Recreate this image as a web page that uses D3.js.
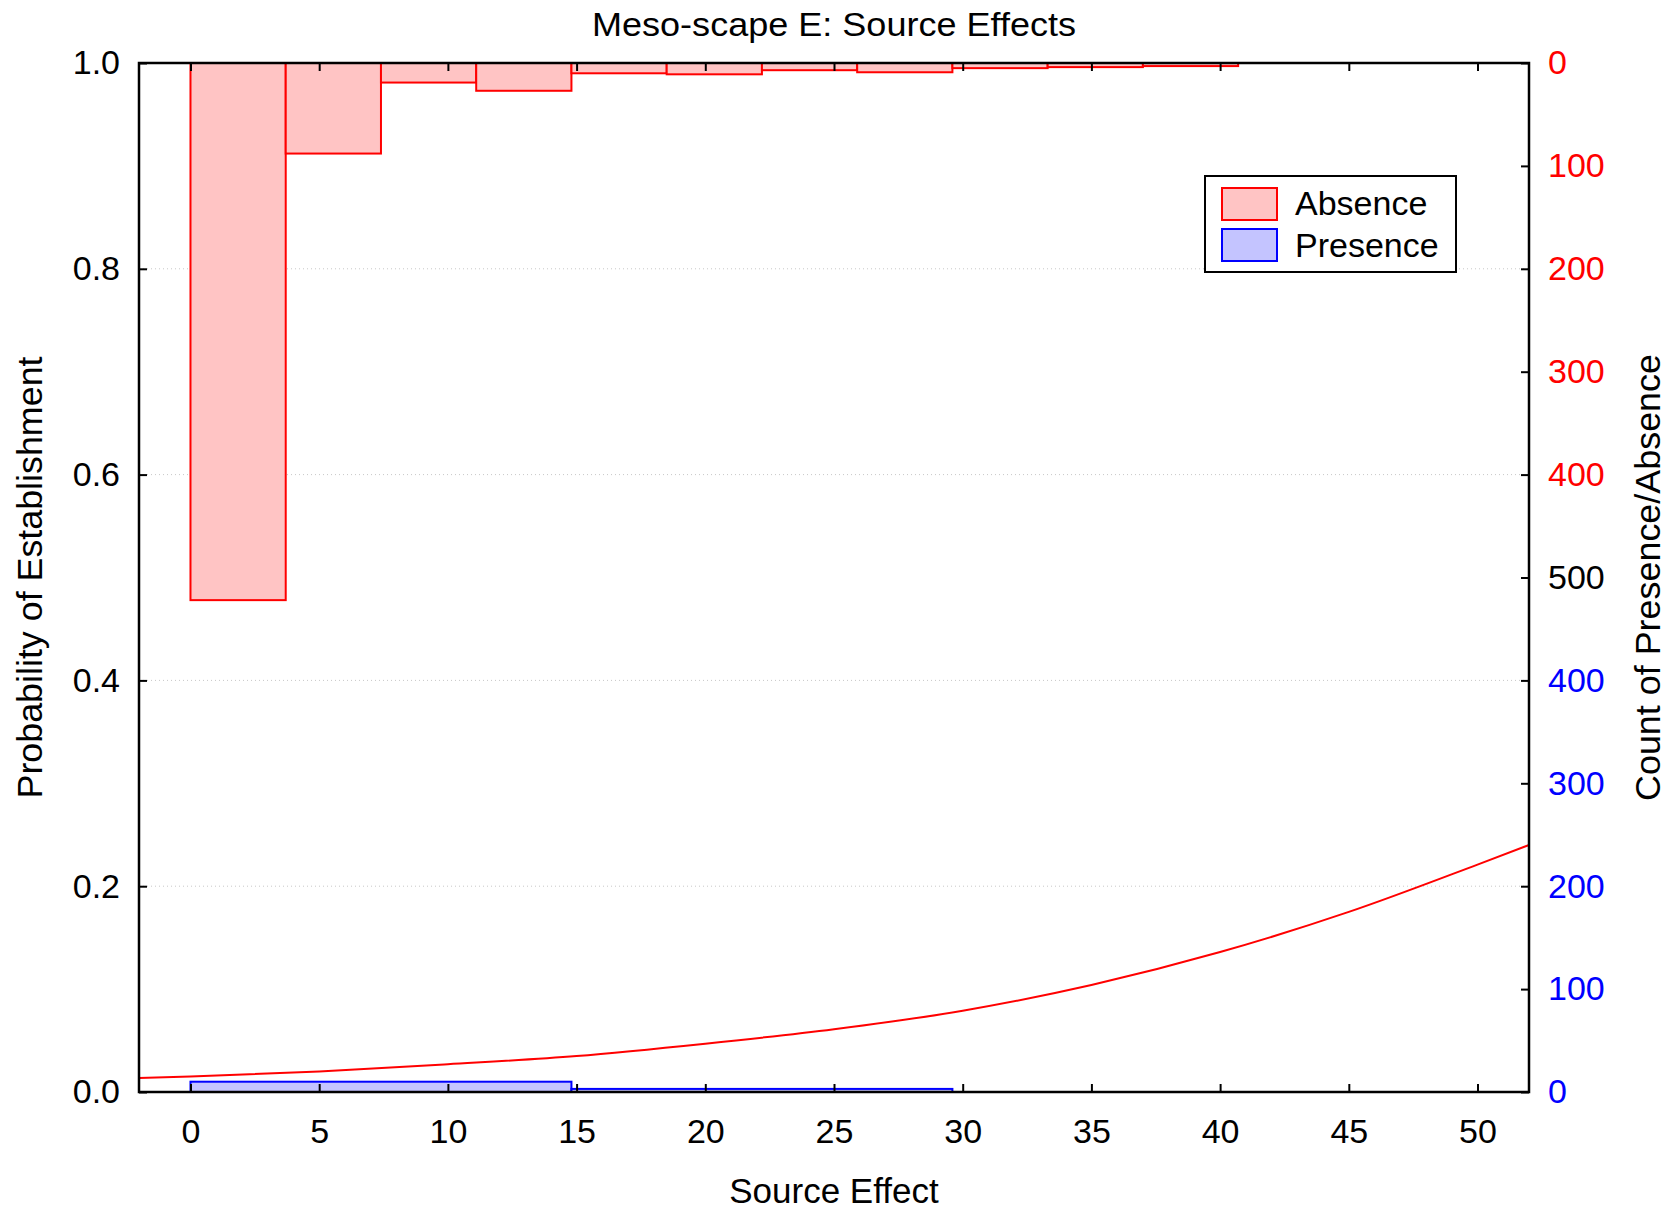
<!DOCTYPE html>
<html>
<head>
<meta charset="utf-8">
<script src="https://cdn.jsdelivr.net/npm/d3@7"></script>
<style>
  body { margin: 0; background: #fff; }
  text { font-family: Arial, "Liberation Sans", sans-serif; }
</style>
</head>
<body>
<div id="container"></div>
<script>
/* CONSTANTS AND GLOBALS */
const width = 1678,
  height = 1210,
  margin = {top: 63, left: 139, bottom: 118, right: 149};

/* DATA */
// histogram bins (source effect) and counts
const absenceEdges = [0, 3.7, 7.4, 11.1, 14.8, 18.5, 22.2, 25.9, 29.6, 33.3, 37.0, 40.7];
const absenceCounts = [522, 88, 19, 27, 10, 11, 7, 9, 5, 4, 3];
const presenceEdges = [0, 14.8, 29.6];
const presenceCounts = [10, 3];

// fitted probability curve
const curveX = [-2, 0, 5, 10, 15, 20, 25, 30, 35, 40, 45, 50, 52];
const curveP = [0.0135, 0.015, 0.020, 0.027, 0.035, 0.047, 0.061, 0.079, 0.104, 0.136, 0.175, 0.221, 0.240];

// tick labels
const xTicks = [0, 5, 10, 15, 20, 25, 30, 35, 40, 45, 50];
const yTicks = [0, 0.2, 0.4, 0.6, 0.8, 1.0];
const countTicks = [0, 100, 200, 300, 400, 500, 600, 700, 800, 900, 1000];
const countLabels = ["0", "100", "200", "300", "400", "500", "400", "300", "200", "100", "0"];
const countColors = ["red", "red", "red", "red", "red", "black", "blue", "blue", "blue", "blue", "blue"];

const legendItems = ["Absence", "Presence"];

/* SCALES */
const xScale = d3.scaleLinear()
  .domain([-2, 52])
  .range([margin.left, width - margin.right]);

const yScale = d3.scaleLinear()
  .domain([0, 1])
  .range([height - margin.bottom, margin.top]);

// right axis: absence counted down from the top, presence up from the bottom
const countScale = d3.scaleLinear()
  .domain([0, 1000])
  .range([margin.top, height - margin.bottom]);

const presenceScale = d3.scaleLinear()
  .domain([0, 1000])
  .range([height - margin.bottom, margin.top]);

/* SVG */
const svg = d3.select("#container")
  .append("svg")
  .attr("width", width)
  .attr("height", height);

const x0 = margin.left, x1 = width - margin.right;
const y0 = margin.top, y1 = height - margin.bottom;

svg.append("clipPath").attr("id", "plotclip")
  .append("rect")
  .attr("x", x0).attr("y", y0)
  .attr("width", x1 - x0).attr("height", y1 - y0);

// grid lines
svg.selectAll(".grid")
  .data([0.2, 0.4, 0.6, 0.8])
  .join("line")
  .attr("class", "grid")
  .attr("x1", x0).attr("x2", x1)
  .attr("y1", d => yScale(d)).attr("y2", d => yScale(d))
  .attr("stroke", "#c8c8c8")
  .attr("stroke-width", 1)
  .attr("stroke-dasharray", "1,3");

// absence bars
const absenceBins = absenceCounts.map((c, i) => ({x0: absenceEdges[i], x1: absenceEdges[i + 1], count: c}));
svg.selectAll(".absence")
  .data(absenceBins)
  .join("rect")
  .attr("class", "absence")
  .attr("x", d => xScale(d.x0))
  .attr("y", countScale(0))
  .attr("width", d => xScale(d.x1) - xScale(d.x0))
  .attr("height", d => countScale(d.count) - countScale(0))
  .attr("fill", "#ffc4c4")
  .attr("stroke", "red")
  .attr("stroke-width", 2);

// presence bars
const presenceBins = presenceCounts.map((c, i) => ({x0: presenceEdges[i], x1: presenceEdges[i + 1], count: c}));
svg.selectAll(".presence")
  .data(presenceBins)
  .join("rect")
  .attr("class", "presence")
  .attr("x", d => xScale(d.x0))
  .attr("y", d => presenceScale(d.count))
  .attr("width", d => xScale(d.x1) - xScale(d.x0))
  .attr("height", d => presenceScale(0) - presenceScale(d.count))
  .attr("fill", "#c4c4ff")
  .attr("stroke", "blue")
  .attr("stroke-width", 2);

// probability curve
const curveData = curveX.map((x, i) => ({x: x, p: curveP[i]}));
const lineGen = d3.line()
  .x(d => xScale(d.x))
  .y(d => yScale(d.p))
  .curve(d3.curveMonotoneX);

svg.append("path")
  .datum(curveData)
  .attr("d", lineGen)
  .attr("fill", "none")
  .attr("stroke", "red")
  .attr("stroke-width", 2)
  .attr("clip-path", "url(#plotclip)");

// AXES (ticks point inward)
const tickLen = 8;

const bottomAxis = svg.append("g")
  .attr("transform", `translate(0,${y1})`)
  .call(d3.axisBottom(xScale).tickValues(xTicks).tickSizeInner(-tickLen).tickSizeOuter(0).tickPadding(24));
bottomAxis.select(".domain").remove();
bottomAxis.selectAll("line").attr("stroke", "black").attr("stroke-width", 2);
bottomAxis.selectAll("text").attr("font-size", 34).attr("fill", "black").attr("dy", "0.71em").attr("y", 27);

const topAxis = svg.append("g")
  .attr("transform", `translate(0,${y0})`)
  .call(d3.axisTop(xScale).tickValues(xTicks).tickSizeInner(-tickLen).tickSizeOuter(0).tickFormat(""));
topAxis.select(".domain").remove();
topAxis.selectAll("line").attr("stroke", "black").attr("stroke-width", 2);

const leftAxis = svg.append("g")
  .attr("transform", `translate(${x0},0)`)
  .call(d3.axisLeft(yScale).tickValues(yTicks).tickFormat(d3.format(".1f")).tickSizeInner(-tickLen).tickSizeOuter(0).tickPadding(19));
leftAxis.select(".domain").remove();
leftAxis.selectAll("line").attr("stroke", "black").attr("stroke-width", 2);
leftAxis.selectAll("text").attr("font-size", 34).attr("fill", "black");

const rightAxis = svg.append("g")
  .attr("transform", `translate(${x1},0)`)
  .call(d3.axisRight(countScale).tickValues(countTicks).tickFormat((d, i) => countLabels[i]).tickSizeInner(-tickLen).tickSizeOuter(0).tickPadding(19));
rightAxis.select(".domain").remove();
rightAxis.selectAll("line").attr("stroke", "black").attr("stroke-width", 2);
rightAxis.selectAll("text").attr("font-size", 34).attr("fill", (d, i) => countColors[i]);

// frame
svg.append("rect")
  .attr("x", x0).attr("y", y0)
  .attr("width", x1 - x0).attr("height", y1 - y0)
  .attr("fill", "none")
  .attr("stroke", "black")
  .attr("stroke-width", 2.5);

// TITLES
svg.append("text")
  .attr("x", (x0 + x1) / 2).attr("y", 36)
  .attr("text-anchor", "middle")
  .attr("font-size", 33)
  .attr("textLength", 484)
  .attr("lengthAdjust", "spacingAndGlyphs")
  .text("Meso-scape E: Source Effects");

svg.append("text")
  .attr("x", (x0 + x1) / 2).attr("y", 1203)
  .attr("text-anchor", "middle")
  .attr("font-size", 35)
  .text("Source Effect");

svg.append("text")
  .attr("transform", `translate(42,${(y0 + y1) / 2}) rotate(-90)`)
  .attr("text-anchor", "middle")
  .attr("font-size", 35)
  .attr("textLength", 442)
  .attr("lengthAdjust", "spacingAndGlyphs")
  .text("Probability of Establishment");

svg.append("text")
  .attr("transform", `translate(1660,${(y0 + y1) / 2}) rotate(-90)`)
  .attr("text-anchor", "middle")
  .attr("font-size", 35)
  .attr("textLength", 447)
  .attr("lengthAdjust", "spacingAndGlyphs")
  .text("Count of Presence/Absence");

// LEGEND
const legend = svg.append("g").attr("transform", "translate(1205,176)");
legend.append("rect")
  .attr("width", 251).attr("height", 96)
  .attr("fill", "white")
  .attr("stroke", "black")
  .attr("stroke-width", 2);

const legendFill = ["#ffc4c4", "#c4c4ff"];
const legendStroke = ["red", "blue"];
legend.selectAll(".swatch")
  .data(legendItems)
  .join("rect")
  .attr("class", "swatch")
  .attr("x", 17)
  .attr("y", (d, i) => 12 + i * 41)
  .attr("width", 55).attr("height", 32)
  .attr("fill", (d, i) => legendFill[i])
  .attr("stroke", (d, i) => legendStroke[i])
  .attr("stroke-width", 2);

legend.selectAll(".label")
  .data(legendItems)
  .join("text")
  .attr("class", "label")
  .attr("x", 90)
  .attr("y", (d, i) => 39 + i * 42)
  .attr("font-size", 34)
  .text(d => d);
</script>
</body>
</html>
